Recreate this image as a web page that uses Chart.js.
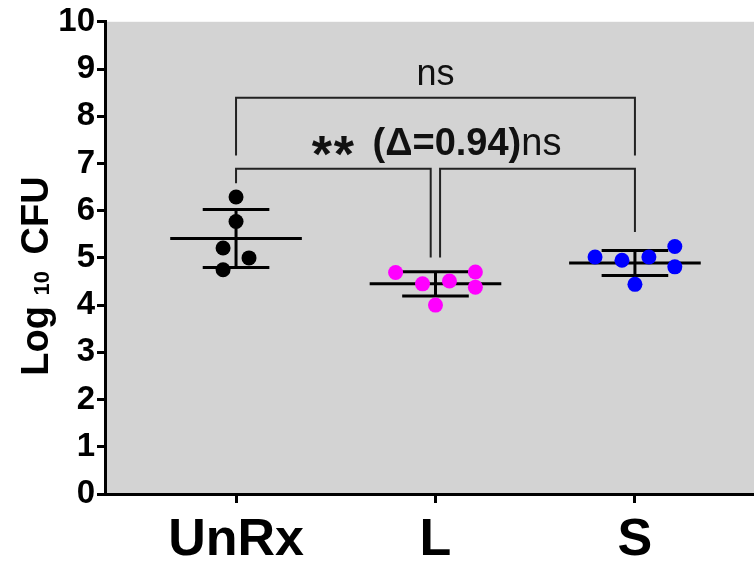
<!DOCTYPE html>
<html>
<head>
<meta charset="utf-8">
<script src="https://cdn.jsdelivr.net/npm/chart.js@4.4.1/dist/chart.umd.min.js"></script>
<style>
  html, body { margin: 0; padding: 0; background: #fff; }
  #wrap { width: 754px; height: 567px; }
</style>
</head>
<body>
<div id="wrap"><canvas id="scatter-chart" width="754" height="567"></canvas></div>
<script>
// categories and tick labels
const categories = ['UnRx', 'L', 'S'];
const yTicks = [0, 1, 2, 3, 4, 5, 6, 7, 8, 9, 10];

// Log10 CFU per animal
const unrxValues = [6.29, 5.77, 5.21, 5.00, 4.75];
const lValues = [4.69, 4.45, 4.51, 4.70, 4.38, 4.00];
const sValues = [5.02, 4.95, 5.02, 5.24, 4.81, 4.44];

// horizontal scatter of the dots (category units)
const unrxJitter = [0, 0, -0.065, 0.065, -0.065];
const lJitter = [-0.2, -0.065, 0.07, 0.2, 0.2, 0];
const sJitter = [-0.2, -0.065, 0.07, 0.2, 0.2, 0];

// mean and SD lines
const means = [5.41, 4.45, 4.89];
const sds = [0.615, 0.255, 0.265];

// significance brackets, as [category, value] corners
const bracketTop = [[1, 7.17], [1, 8.39], [3, 8.39], [3, 7.17]];
const bracketLeft = [[1, 6.58], [1, 6.89], [1.976, 6.89], [1.976, 5.01]];
const bracketRight = [[2.023, 5.01], [2.023, 6.89], [3, 6.89], [3, 5.55]];

const FONT = "'Liberation Sans', Arial, Helvetica, sans-serif";

function toPoints(values, jitter, cat) {
  return values.map((v, i) => ({ x: cat + jitter[i], y: v }));
}

const errorBars = {
  id: 'errorBars',
  beforeDatasetsDraw(chart) {
    const ctx = chart.ctx;
    const xs = chart.scales.x, ys = chart.scales.y;
    ctx.save();
    // brackets
    ctx.strokeStyle = '#222';
    ctx.lineWidth = 2;
    [bracketTop, bracketLeft, bracketRight].forEach(b => {
      ctx.beginPath();
      b.forEach((p, i) => {
        const px = xs.getPixelForValue(p[0]), py = ys.getPixelForValue(p[1]);
        if (i === 0) ctx.moveTo(px, py); else ctx.lineTo(px, py);
      });
      ctx.stroke();
    });
    // mean +- SD
    ctx.strokeStyle = '#000';
    ctx.lineWidth = 3;
    means.forEach((m, i) => {
      const c = i + 1;
      const hl = (a, b, v) => {
        ctx.beginPath();
        ctx.moveTo(xs.getPixelForValue(c + a), ys.getPixelForValue(v));
        ctx.lineTo(xs.getPixelForValue(c + b), ys.getPixelForValue(v));
        ctx.stroke();
      };
      hl(-0.33, 0.33, m);
      hl(-0.167, 0.167, m + sds[i]);
      hl(-0.167, 0.167, m - sds[i]);
      ctx.beginPath();
      ctx.moveTo(xs.getPixelForValue(c), ys.getPixelForValue(m + sds[i]));
      ctx.lineTo(xs.getPixelForValue(c), ys.getPixelForValue(m - sds[i]));
      ctx.stroke();
    });
    ctx.restore();
  }
};

const plotBackground = {
  id: 'plotBackground',
  beforeDraw(chart) {
    const a = chart.chartArea;
    chart.ctx.save();
    chart.ctx.fillStyle = '#d3d3d3';
    chart.ctx.fillRect(a.left, a.top, a.right - a.left, a.bottom - a.top);
    chart.ctx.restore();
  }
};

const labels = {
  id: 'labels',
  afterDraw(chart) {
    const ctx = chart.ctx;
    const xs = chart.scales.x, ys = chart.scales.y;
    ctx.save();
    ctx.fillStyle = '#111';
    ctx.textBaseline = 'alphabetic';
    // top "ns"
    ctx.font = '36px ' + FONT;
    ctx.textAlign = 'center';
    ctx.fillText('ns', xs.getPixelForValue(2), ys.getPixelForValue(8.67));
    // "** (Δ=0.94)ns"
    const bx = xs.getPixelForValue(2.43), by = ys.getPixelForValue(7.18);
    ctx.font = '38px ' + FONT;
    ctx.textAlign = 'left';
    ctx.fillText('ns', bx, by);
    ctx.font = 'bold 38px ' + FONT;
    ctx.textAlign = 'right';
    ctx.fillText(' (\u0394=0.94)', bx, by);
    const sw = ctx.measureText(' (\u0394=0.94)').width;
    ctx.font = 'bold 52px ' + FONT;
    ctx.fillText('*', bx - sw - 8, by + 17);
    ctx.fillText('*', bx - sw - 30, by + 17);

    // y axis title with subscript
    ctx.fillStyle = '#000';
    ctx.translate(48, 276);
    ctx.rotate(-Math.PI / 2);
    const parts = [['Log ', 'bold 38px ', 0], ['10', 'bold 22px ', 1], [' CFU', 'bold 38px ', 0]];
    let w = 0;
    parts.forEach(p => { ctx.font = p[1] + FONT; w += ctx.measureText(p[0]).width + (p[0] === '10' ? 6 : 0); });
    let x = -w / 2;
    ctx.textAlign = 'left';
    parts.forEach(p => {
      ctx.font = p[1] + FONT;
      ctx.fillText(p[0], x, p[2]);
      x += ctx.measureText(p[0]).width + (p[0] === '10' ? 6 : 0);
    });
    ctx.restore();
  }
};

new Chart(document.getElementById('scatter-chart'), {
  type: 'scatter',
  data: {
    datasets: [
      { label: categories[0], data: toPoints(unrxValues, unrxJitter, 1), backgroundColor: '#000', borderColor: '#000' },
      { label: categories[1], data: toPoints(lValues, lJitter, 2), backgroundColor: '#ff00ff', borderColor: '#ff00ff' },
      { label: categories[2], data: toPoints(sValues, sJitter, 3), backgroundColor: '#0000ff', borderColor: '#0000ff' }
    ]
  },
  options: {
    responsive: false,
    animation: false,
    layout: { autoPadding: false, padding: { top: 21, right: 0, bottom: 0, left: 0 } },
    elements: { point: { radius: 7.5, borderWidth: 0, hoverRadius: 7.5 } },
    plugins: {
      legend: { display: false },
      tooltip: { enabled: false }
    },
    scales: {
      x: {
        type: 'linear',
        min: 0.343,
        max: 3.597,
        afterFit: s => { s.height = 73; },
        afterBuildTicks: s => { s.ticks = [1, 2, 3].map(v => ({ value: v })); },
        border: { display: true, color: '#000', width: 3 },
        grid: { drawOnChartArea: false, drawTicks: true, tickLength: 9, color: '#000', lineWidth: 3 },
        ticks: {
          color: '#000',
          padding: 6,
          maxRotation: 0,
          font: { family: FONT, size: 52, weight: 'bold' },
          callback: v => categories[v - 1]
        }
      },
      y: {
        min: 0,
        max: 10,
        afterFit: s => { s.width = 105; },
        afterBuildTicks: s => { s.ticks = yTicks.map(v => ({ value: v })); },
        border: { display: true, color: '#000', width: 3 },
        grid: { drawOnChartArea: false, drawTicks: true, tickLength: 8, color: '#000', lineWidth: 3 },
        ticks: {
          color: '#000',
          padding: 2,
          font: { family: FONT, size: 33, weight: 'bold' }
        }
      }
    }
  },
  plugins: [plotBackground, errorBars, labels]
});
</script>
</body>
</html>
